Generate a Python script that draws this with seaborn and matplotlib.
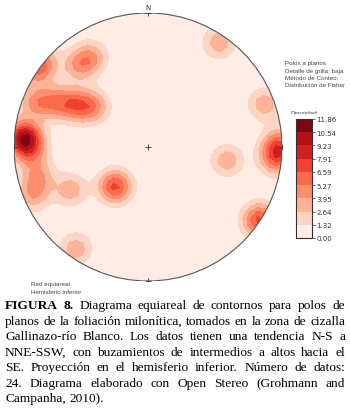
import numpy as np
import matplotlib
matplotlib.use("Agg")
import matplotlib.pyplot as plt
import seaborn as sns
from matplotlib.patches import Circle, Rectangle

sns.set_style("white")

# Pole positions (equal-area projection, unit circle, x = E, y = N)
pole_x = [-0.95, -0.92, -0.90, -0.87, -0.82, -0.86, -0.84, -0.79,
          -0.85, -0.72, -0.60, -0.50, -0.40,
          -0.52, -0.42, -0.25, -0.24, -0.58, 0.59, 0.98, 0.97,
          0.95, 0.87, 0.53, 0.84, 0.82, -0.54]
pole_y = [0.07, 0.04, 0.09, -0.04, -0.22, -0.36, 0.58, 0.63,
          0.33, 0.34, 0.32, 0.31, 0.30,
          0.61, 0.67, -0.29, -0.30, -0.32, -0.10, 0.03, -0.03,
          -0.10, 0.32, 0.78, -0.53, -0.56, -0.76]

# density levels (%) shown on the colour bar
levels = [0.00, 1.32, 2.64, 3.95, 5.27, 6.59, 7.91, 9.23, 10.54, 11.86]

info_lines = ["Polos a planos", "Detalle de grilla: baja",
              "Método de Conteo:", "Distribución de Fisher"]
net_lines = ["Red equiareal", "Hemisferio inferior"]
caption_lines = [
    "FIGURA 8. Diagrama equiareal de contornos para polos de",
    "planos de la foliación milonítica, tomados en la zona de cizalla",
    "Gallinazo-río Blanco.  Los datos  tienen una tendencia N-S a",
    "NNE-SSW, con buzamientos de intermedios a altos hacia el",
    "SE. Proyección en el hemisferio inferior. Número de datos:",
    "24. Diagrama elaborado con Open Stereo (Grohmann and",
    "Campanha, 2010).",
]

W, H = 350, 414

# Fisher-like smoothing of the poles on a coarse grid ("grilla baja")
sigma = 0.085
amp = 3.6
g = np.linspace(-1.05, 1.05, 46)
X, Y = np.meshgrid(g, g)
dens = np.zeros_like(X)
for px, py in zip(pole_x, pole_y):
    dens += amp * np.exp(-((X - px) ** 2 + (Y - py) ** 2) / (2 * sigma ** 2))
dens = np.minimum(dens, levels[-1] - 0.01)

cmap = sns.color_palette("Reds", as_cmap=True)
colors = [cmap(v) for v in np.linspace(0.05, 0.95, len(levels) - 1)]

fig = plt.figure(figsize=(W / 100, H / 100), dpi=100)
fig.patch.set_facecolor("white")

# stereonet
ax = fig.add_axes([14 / W, 1 - 282 / H, 268 / W, 268 / H])
cs = ax.contourf(X, Y, dens, levels=levels, colors=colors)
clip = Circle((0, 0), 1, transform=ax.transData)
cs.set_clip_path(clip)
ax.add_patch(Circle((0, 0), 1, fill=False, ec="#555555", lw=0.8, zorder=3))
ax.plot([0, 1, -1, 0, 0], [1, 0, 0, -1, 0], ls="none", marker="+",
        ms=5, mew=0.6, color="#333333", zorder=4)
ax.text(0, 1.047, "N", ha="center", va="center", fontsize=5, color="#333333")
ax.set_xlim(-1, 1)
ax.set_ylim(-1, 1)
ax.set_aspect("equal")
ax.axis("off")

# colour bar
fig.text(304 / W, 1 - 113.5 / H, "Densidad", ha="center", va="center",
         fontsize=4.6, family="Liberation Sans", color="#444444", zorder=1)
fig.patches.append(Rectangle((288 / W, 1 - 120 / H), 32 / W, 5 / H,
                             transform=fig.transFigure, fc="white", ec="none",
                             zorder=2))
cax = fig.add_axes([296 / W, 1 - 239 / H, 16 / W, 119 / H])
cax.set_zorder(5)
cb = fig.colorbar(cs, cax=cax, ticks=levels)
cb.ax.set_yticklabels([f"{v:.2f}" for v in levels])
cb.ax.tick_params(labelsize=5, length=2, width=0.5, pad=1, colors="#333333")
cb.outline.set_linewidth(0.8)
cb.outline.set_edgecolor("#333333")

for i, s in enumerate(info_lines):
    fig.text(285 / W, 1 - (64 + i * 7.3) / H, s, fontsize=4.5,
             family="Liberation Sans", color="#444444", va="center", ha="left")
for i, s in enumerate(net_lines):
    fig.text(31 / W, 1 - (285 + i * 7) / H, s, fontsize=4.5,
             family="Liberation Sans", color="#444444", va="center", ha="left")

# justified caption
fs = 9.6
fam = "Liberation Serif"
renderer = fig.canvas.get_renderer()
left_px, right_px = 5, 345


def word_width(word, bold):
    t = fig.text(0, 0, word, fontsize=fs, family=fam,
                 weight="bold" if bold else "normal")
    w = t.get_window_extent(renderer).width
    t.remove()
    return w


space = word_width("a b", False) - 2 * word_width("a", False)
for i, line in enumerate(caption_lines):
    words = line.split()
    bolds = [i == 0 and k < 2 for k in range(len(words))]
    widths = [word_width(w, b) for w, b in zip(words, bolds)]
    if i == len(caption_lines) - 1:
        gap = space
    else:
        gap = (right_px - left_px - sum(widths)) / (len(words) - 1)
    x = left_px
    y = 1 - (309.5 + i * 15.45) / H
    for w, b, wd in zip(words, bolds, widths):
        fig.text(x / W, y, w, fontsize=fs, family=fam, va="baseline", ha="left",
                 weight="bold" if b else "normal", color="black")
        x += wd + gap

fig.savefig("out.png", dpi=100)
